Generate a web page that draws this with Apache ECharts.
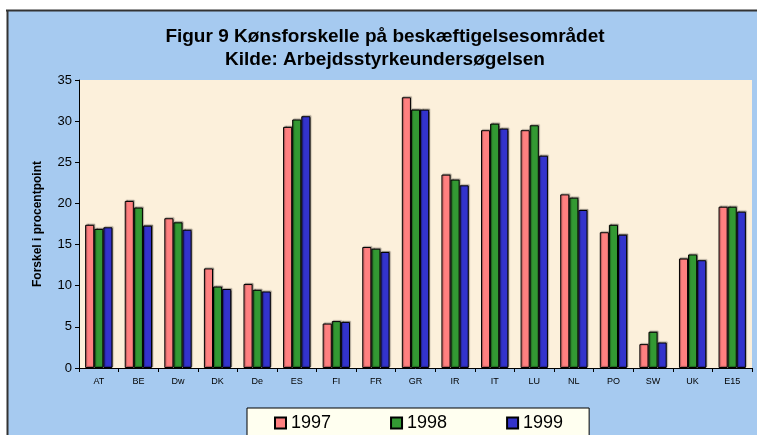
<!DOCTYPE html>
<html>
<head>
<meta charset="utf-8">
<script src="https://cdn.jsdelivr.net/npm/echarts@6/dist/echarts.min.js"></script>
<style>
  html, body { margin: 0; padding: 0; background: #fff; overflow: hidden; }
  #chart { width: 757px; height: 435px; }
</style>
</head>
<body>
<div id="chart"></div>
<script>
// lande
const categories = ['AT', 'BE', 'Dw', 'DK', 'De', 'ES', 'FI', 'FR', 'GR', 'IR', 'IT', 'LU', 'NL', 'PO', 'SW', 'UK', 'E15']
// forskel i procentpoint pr. år
const values1997 = [17.4, 20.3, 18.2, 12.1, 10.2, 29.3, 5.4, 14.7, 32.9, 23.5, 28.9, 28.9, 21.1, 16.5, 2.9, 13.3, 19.6]
const values1998 = [16.9, 19.5, 17.7, 9.9, 9.5, 30.2, 5.7, 14.5, 31.4, 22.9, 29.7, 29.5, 20.7, 17.4, 4.4, 13.8, 19.6]
const values1999 = [17.1, 17.3, 16.8, 9.6, 9.3, 30.6, 5.6, 14.1, 31.4, 22.2, 29.1, 25.8, 19.2, 16.2, 3.1, 13.1, 19.0]
const yTicks = [0, 5, 10, 15, 20, 25, 30, 35]

const chart = echarts.init(document.getElementById('chart'))
const font = 'Liberation Sans, Arial, sans-serif'

const barStyle = (color) => ({
  color: color,
  borderColor: '#000',
  borderWidth: 1,
  shadowColor: 'rgba(0,0,0,0.35)',
  shadowOffsetX: 1,
  shadowOffsetY: -1,
  shadowBlur: 1
})

const option = {
  backgroundColor: '#ffffff',
  animation: false,
  graphic: [
    // blå baggrund, kun top- og venstrekant
    {
      type: 'rect',
      z: -10,
      shape: { x: 7, y: 10, width: 760, height: 430 },
      style: { fill: '#A6CAF0' }
    },
    {
      type: 'line',
      z: -9,
      shape: { x1: 6, y1: 10.5, x2: 757, y2: 10.5 },
      style: { stroke: '#333', lineWidth: 2 }
    },
    {
      type: 'line',
      z: -9,
      shape: { x1: 7.5, y1: 10, x2: 7.5, y2: 435 },
      style: { stroke: '#333', lineWidth: 2 }
    }
  ],
  title: {
    text: 'Figur 9 Kønsforskelle på beskæftigelsesområdet\nKilde: Arbejdsstyrkeundersøgelsen',
    left: 385,
    top: 25,
    padding: 0,
    textAlign: 'center',
    textStyle: {
      fontFamily: font,
      fontSize: 19,
      fontWeight: 'bold',
      color: '#000',
      lineHeight: 23
    }
  },
  legend: {
    left: 247,
    top: 408,
    itemWidth: 11,
    itemHeight: 11,
    itemGap: 59,
    padding: [6, 26, 10, 27],
    backgroundColor: '#FFFFF0',
    borderColor: '#000',
    borderWidth: 1,
    borderRadius: 0,
    icon: 'rect',
    textStyle: {
      fontFamily: font,
      fontSize: 18,
      color: '#000'
    },
    data: ['1997', '1998', '1999']
  },
  grid: {
    left: 79,
    right: 5,
    top: 80,
    bottom: 67,
    show: true,
    backgroundColor: '#FCF0DB',
    borderWidth: 0
  },
  xAxis: {
    type: 'category',
    data: categories,
    axisLine: { lineStyle: { color: '#000', width: 1 } },
    axisTick: { show: true, length: 4, lineStyle: { color: '#000' } },
    axisLabel: {
      fontFamily: font,
      fontSize: 9,
      color: '#000',
      margin: 9
    }
  },
  yAxis: {
    type: 'value',
    min: 0,
    max: 35,
    interval: 5,
    name: 'Forskel i procentpoint',
    nameLocation: 'middle',
    nameGap: 35,
    nameRotate: 90,
    nameTextStyle: {
      fontFamily: font,
      fontSize: 12,
      fontWeight: 'bold',
      color: '#000'
    },
    axisLine: { show: true, lineStyle: { color: '#000', width: 1 } },
    axisTick: { show: true, length: 4, lineStyle: { color: '#000' } },
    splitLine: { show: false },
    axisLabel: {
      fontFamily: font,
      fontSize: 13,
      color: '#000',
      margin: 7,
      formatter: (v) => yTicks.includes(v) ? String(v) : ''
    }
  },
  series: [
    {
      name: '1997',
      type: 'bar',
      data: values1997,
      barGap: '0%',
      barCategoryGap: '31%',
      itemStyle: barStyle('#FF8080')
    },
    {
      name: '1998',
      type: 'bar',
      data: values1998,
      itemStyle: barStyle('#339933')
    },
    {
      name: '1999',
      type: 'bar',
      data: values1999,
      itemStyle: barStyle('#3333CC')
    }
  ]
}

chart.setOption(option)
</script>
</body>
</html>
